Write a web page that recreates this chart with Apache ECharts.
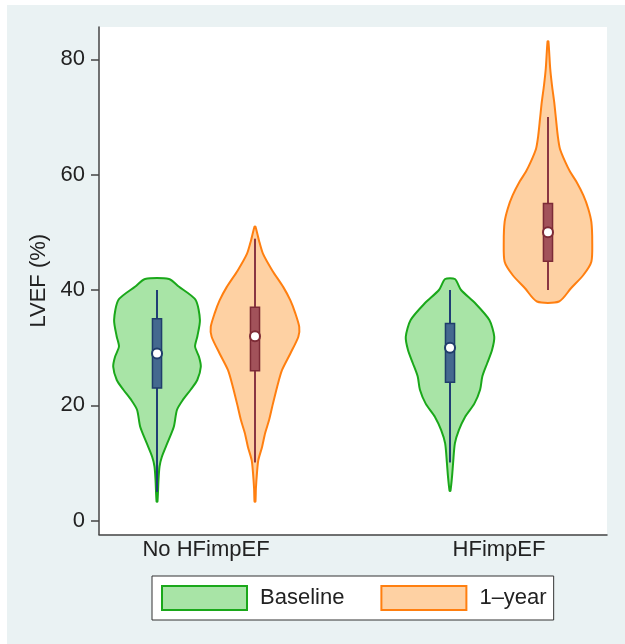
<!DOCTYPE html>
<html>
<head>
<meta charset="utf-8">
<script src="https://cdn.jsdelivr.net/npm/echarts@6/dist/echarts.min.js"></script>
<style>
html,body{margin:0;padding:0;background:#fff;}
#bg{position:absolute;left:7px;top:5px;width:618px;height:639px;background:#EAF2F3;}
#main{position:absolute;left:0;top:0;width:625px;height:644px;}
</style>
</head>
<body>
<div id="bg"></div>
<div id="main"></div>
<script>
// ---- data ----
const categories = ['No HFimpEF', 'HFimpEF'];
const seriesNames = ['Baseline', '1\u2013year'];
const yTicks = [0, 20, 40, 60, 80];

// box stats: [lower whisker, Q1, median, Q3, upper whisker]
const baselineBox = [[5.0, 23.0, 29.0, 35.0, 40.0], [10.1, 24.0, 30.0, 34.2, 40.0]];
const yearBox = [[10.1, 26.0, 32.0, 37.0, 48.9], [40.0, 45.0, 50.0, 55.0, 70.0]];

// density profiles: [LVEF value, relative half-width]
const baselineNoImp = [
  [3.3, 0.01], [7.1, 0.034], [9.4, 0.057], [11.1, 0.11], [13.4, 0.23], [16.3, 0.38],
  [19.2, 0.45], [20.9, 0.58], [22.7, 0.76], [24.4, 0.91], [26.7, 0.99], [28.4, 0.95],
  [30.2, 0.86], [31.9, 0.91], [34.8, 0.97], [38.3, 0.87], [40.6, 0.49], [41.9, 0.27]
];
const yearNoImp = [
  [3.3, 0.01], [5.5, 0.02], [8.3, 0.045], [10.5, 0.075], [12.8, 0.16], [15.2, 0.23],
  [17.5, 0.32], [19.8, 0.39], [23.2, 0.5], [26.1, 0.61], [29.0, 0.8], [31.9, 0.98],
  [33.6, 1.0], [36.0, 0.91], [38.2, 0.8], [40.5, 0.64], [43.4, 0.39], [46.3, 0.18],
  [48.6, 0.09], [51.0, 0.01]
];
const baselineImp = [
  [5.2, 0.01], [7.6, 0.045], [10.0, 0.07], [13.4, 0.11], [15.7, 0.2], [18.0, 0.34],
  [20.3, 0.55], [22.7, 0.68], [25.0, 0.73], [27.3, 0.84], [29.6, 0.95], [31.9, 1.0],
  [34.8, 0.89], [37.7, 0.57], [40.0, 0.25], [41.9, 0.11]
];
const yearImp = [
  [38.0, 0.25], [40.3, 0.52], [42.6, 0.8], [44.9, 0.98], [48.4, 1.0], [51.8, 0.98],
  [54.1, 0.91], [56.4, 0.8], [58.8, 0.64], [60.5, 0.5], [62.2, 0.39], [64.5, 0.27],
  [66.8, 0.22], [69.7, 0.18], [72.6, 0.14], [75.5, 0.09], [78.4, 0.05], [83.1, 0.01]
];

// ---- styles ----
const FONT = '"Liberation Sans", Arial, Helvetica, sans-serif';
const violinHalfWidth = 0.151;   // in x-axis units
const groupOffset = 0.1672;
const boxHalfWidth = 0.0155;

const styles = [
  { fill: '#A8E4A6', line: '#1AA81A', box: '#44698F', boxLine: '#1F3D6B', whisker: '#1F3D75' },
  { fill: '#FED1A3', line: '#FF7F10', box: '#A2525A', boxLine: '#7D2B36', whisker: '#8A3642' }
];

function makeRender(profiles, boxes, offset, st) {
  return function (params, api) {
    const idx = params.dataIndex;
    const cx = api.value(0) + offset;
    const prof = profiles[idx];
    const bx = boxes[idx];
    const center = api.coord([cx, 0])[0];
    const hw = api.size([violinHalfWidth, 0])[0];
    const bw = api.size([boxHalfWidth, 0])[0];
    const pts = [];
    for (let i = 0; i < prof.length; i++) {
      pts.push([center - prof[i][1] * hw, api.coord([cx, prof[i][0]])[1]]);
    }
    for (let i = prof.length - 1; i >= 0; i--) {
      pts.push([center + prof[i][1] * hw, api.coord([cx, prof[i][0]])[1]]);
    }
    const yLo = api.coord([cx, bx[0]])[1];
    const yQ1 = api.coord([cx, bx[1]])[1];
    const yMed = api.coord([cx, bx[2]])[1];
    const yQ3 = api.coord([cx, bx[3]])[1];
    const yHi = api.coord([cx, bx[4]])[1];
    return {
      type: 'group',
      children: [
        { type: 'polygon', shape: { points: pts, smooth: 0.25 },
          style: { fill: st.fill, stroke: st.line, lineWidth: 2 } },
        { type: 'line', shape: { x1: center, y1: yLo, x2: center, y2: yHi },
          style: { stroke: st.whisker, lineWidth: 2 } },
        { type: 'rect', shape: { x: center - bw, y: yQ3, width: 2 * bw, height: yQ1 - yQ3 },
          style: { fill: st.box, stroke: st.boxLine, lineWidth: 1.5 } },
        { type: 'circle', shape: { cx: center, cy: yMed, r: 5 },
          style: { fill: '#fff', stroke: st.boxLine, lineWidth: 2 } }
      ]
    };
  };
}

const chart = echarts.init(document.getElementById('main'), null, { renderer: 'canvas' });
chart.setOption({
  backgroundColor: 'transparent',
  animation: false,
  textStyle: { fontFamily: FONT },
  grid: { left: 99, right: 18, top: 27, bottom: 109.5, show: true, backgroundColor: '#fff', borderWidth: 0 },
  legend: {
    left: 152, top: 576,
    orient: 'horizontal',
    backgroundColor: '#fff',
    borderColor: '#333', borderWidth: 1,
    padding: [9, 7, 9, 9],
    itemWidth: 85, itemHeight: 24, itemGap: 36,
    icon: 'rect',
    textStyle: { fontSize: 22, color: '#222', fontFamily: FONT, padding: [0, 0, 0, 8] },
    data: [
      { name: seriesNames[0], itemStyle: { color: styles[0].fill, borderColor: styles[0].line, borderWidth: 2 } },
      { name: seriesNames[1], itemStyle: { color: styles[1].fill, borderColor: styles[1].line, borderWidth: 2 } }
    ]
  },
  xAxis: {
    type: 'value', min: 0.6348, max: 2.3686,
    splitLine: { show: false },
    axisTick: { show: false },
    axisLine: { show: true, onZero: false, lineStyle: { color: '#444', width: 1.5 } },
    axisLabel: {
      customValues: [1, 2],
      formatter: v => categories[Math.round(v) - 1],
      fontSize: 22, color: '#222', margin: 4, fontFamily: FONT
    }
  },
  yAxis: {
    type: 'value', min: -2.39, max: 85.6,
    name: 'LVEF (%)', nameLocation: 'middle', nameGap: 49,
    nameTextStyle: { fontSize: 22, color: '#222', fontFamily: FONT },
    splitLine: { show: false },
    axisLine: { show: true, onZero: false, lineStyle: { color: '#444', width: 1.5 } },
    axisTick: { show: true, customValues: yTicks, length: 8, lineStyle: { color: '#444', width: 1.5 } },
    axisLabel: { customValues: yTicks, fontSize: 22, color: '#222', margin: 14, fontFamily: FONT }
  },
  series: [
    { name: seriesNames[0], type: 'custom', data: [[1], [2]], encode: { x: 0 },
      itemStyle: { color: styles[0].fill, borderColor: styles[0].line, borderWidth: 2 },
      renderItem: makeRender([baselineNoImp, baselineImp], baselineBox, -groupOffset, styles[0]) },
    { name: seriesNames[1], type: 'custom', data: [[1], [2]], encode: { x: 0 },
      itemStyle: { color: styles[1].fill, borderColor: styles[1].line, borderWidth: 2 },
      renderItem: makeRender([yearNoImp, yearImp], yearBox, groupOffset, styles[1]) }
  ]
});
</script>
</body>
</html>
